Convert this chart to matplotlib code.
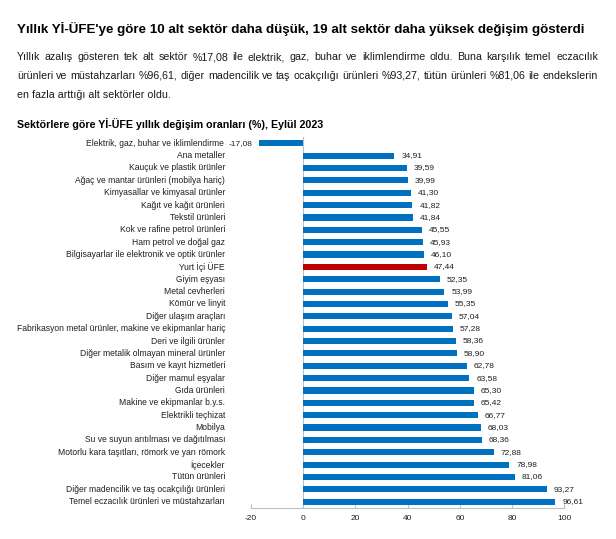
import matplotlib
matplotlib.use("Agg")
import matplotlib.pyplot as plt
import matplotlib.transforms as mtransforms

plt.rcParams['font.family'] = ['Liberation Sans', 'DejaVu Sans']

title = "Yıllık Yİ-ÜFE'ye göre 10 alt sektör daha düşük, 19 alt sektör daha yüksek değişim gösterdi"
body_lines = [
    "Yıllık azalış gösteren tek alt sektör %17,08 ile elektrik, gaz, buhar ve iklimlendirme oldu. Buna karşılık temel eczacılık",
    "ürünleri ve müstahzarları %96,61, diğer madencilik ve taş ocakçılığı ürünleri %93,27, tütün ürünleri %81,06 ile endekslerin",
    "en fazla arttığı alt sektörler oldu.",
]
chart_title = "Sektörlere göre Yİ-ÜFE yıllık değişim oranları (%), Eylül 2023"

categories = [
    "Elektrik, gaz, buhar ve iklimlendirme",
    "Ana metaller",
    "Kauçuk ve plastik ürünler",
    "Ağaç ve mantar ürünleri (mobilya hariç)",
    "Kimyasallar ve kimyasal ürünler",
    "Kağıt ve kağıt ürünleri",
    "Tekstil ürünleri",
    "Kok ve rafine petrol ürünleri",
    "Ham petrol ve doğal gaz",
    "Bilgisayarlar ile elektronik ve optik ürünler",
    "Yurt İçi ÜFE",
    "Giyim eşyası",
    "Metal cevherleri",
    "Kömür ve linyit",
    "Diğer ulaşım araçları",
    "Fabrikasyon metal ürünler, makine ve ekipmanlar hariç",
    "Deri ve ilgili ürünler",
    "Diğer metalik olmayan mineral ürünler",
    "Basım ve kayıt hizmetleri",
    "Diğer mamul eşyalar",
    "Gıda ürünleri",
    "Makine ve ekipmanlar b.y.s.",
    "Elektrikli teçhizat",
    "Mobilya",
    "Su ve suyun arıtılması ve dağıtılması",
    "Motorlu kara taşıtları, römork ve yarı römork",
    "İçecekler",
    "Tütün ürünleri",
    "Diğer madencilik ve taş ocakçılığı ürünleri",
    "Temel eczacılık ürünleri ve müstahzarları",
]
values = [-17.08, 34.91, 39.59, 39.99, 41.30, 41.82, 41.84, 45.55, 45.93, 46.10,
          47.44, 52.35, 53.99, 55.35, 57.04, 57.28, 58.36, 58.90, 62.78, 63.58,
          65.30, 65.42, 66.77, 68.03, 68.36, 72.88, 78.98, 81.06, 93.27, 96.61]
highlight = "Yurt İçi ÜFE"
xticks = [-20, 0, 20, 40, 60, 80, 100]

W, H = 616, 539
fig = plt.figure(figsize=(W / 100, H / 100), dpi=100)
renderer = fig.canvas.get_renderer()


def px(x, y):
    return x / W, 1 - y / H


def fit_text(s, x, y, width, fs, **kw):
    t = fig.text(*px(x, y), s, fontsize=fs, va='center', ha='left', **kw)
    w = t.get_window_extent(renderer).width
    t.set_fontsize(fs * width / w)
    return t


# Title
fit_text(title, 17, 29, 568, 12, fontweight='bold', color='#000000')

# Body paragraph (justified)
body_fs = 9.0
tmp = fig.text(0, 0, body_lines[2], fontsize=body_fs)
w3 = tmp.get_window_extent(renderer).width
tmp.remove()
body_fs = body_fs * 153 / w3
body_y = [57, 76, 95]
left, right = 17, 598
for i, line in enumerate(body_lines):
    if i < len(body_lines) - 1:
        words = line.split(' ')
        texts = []
        widths = []
        for wd in words:
            t = fig.text(0, 0, wd, fontsize=body_fs, va='center', ha='left', color='#1a1a1a')
            texts.append(t)
            widths.append(t.get_window_extent(renderer).width)
        gap = (right - left - sum(widths)) / (len(words) - 1)
        xcur = left
        for t, wdt in zip(texts, widths):
            t.set_position(px(xcur, body_y[i]))
            xcur += wdt + gap
    else:
        fig.text(*px(left, body_y[i]), line, fontsize=body_fs, va='center', ha='left', color='#1a1a1a')

# Chart title
fit_text(chart_title, 17, 124, 305, 9.5, fontweight='bold', color='#000000')

# Axes
ax_left, ax_right = 251.1, 564.3
ax_top, ax_bottom = 137.1, 507.9
ax = fig.add_axes([ax_left / W, 1 - ax_bottom / H, (ax_right - ax_left) / W, (ax_bottom - ax_top) / H])
ypos = list(range(len(categories)))
colors = ['#C00000' if c == highlight else '#0070C0' for c in categories]
ax.barh(ypos, values, height=0.5, color=colors, zorder=2)
ax.set_xlim(-20, 100)
ax.set_ylim(len(categories) - 0.5, -0.5)
for s in ['top', 'right', 'left']:
    ax.spines[s].set_visible(False)
ax.spines['bottom'].set_color('#BFBFBF')
ax.spines['bottom'].set_linewidth(0.8)
ax.axvline(0, color='#BFBFBF', lw=0.8, zorder=1)
ax.set_xticks(xticks)
ax.set_xticklabels([str(v) for v in xticks])
ax.tick_params(axis='x', direction='in', length=3, width=0.8, color='#BFBFBF',
               labelsize=6.0, labelcolor='#1f1f1f', pad=5)
ax.set_yticks([])
ax.patch.set_alpha(0)

# Category labels (right aligned left of plot area)
trans = mtransforms.blended_transform_factory(fig.transFigure, ax.transData)
for i, c in enumerate(categories):
    xr = 224 if values[i] < 0 else 225
    ax.text(xr / W, i, c, transform=trans, ha='right', va='center',
            fontsize=6.15, color='#1f1f1f')

# Value labels
for i, v in enumerate(values):
    lab = f"{v:.2f}".replace('.', ',')
    if v < 0:
        ax.annotate(lab, (v, i), xytext=(-4.5, 0), textcoords='offset points',
                    ha='right', va='center', fontsize=6.0, color='#1f1f1f')
    else:
        ax.annotate(lab, (v, i), xytext=(5, 0), textcoords='offset points',
                    ha='left', va='center', fontsize=6.0, color='#1f1f1f')

fig.savefig('out.png', dpi=100, facecolor='white')
